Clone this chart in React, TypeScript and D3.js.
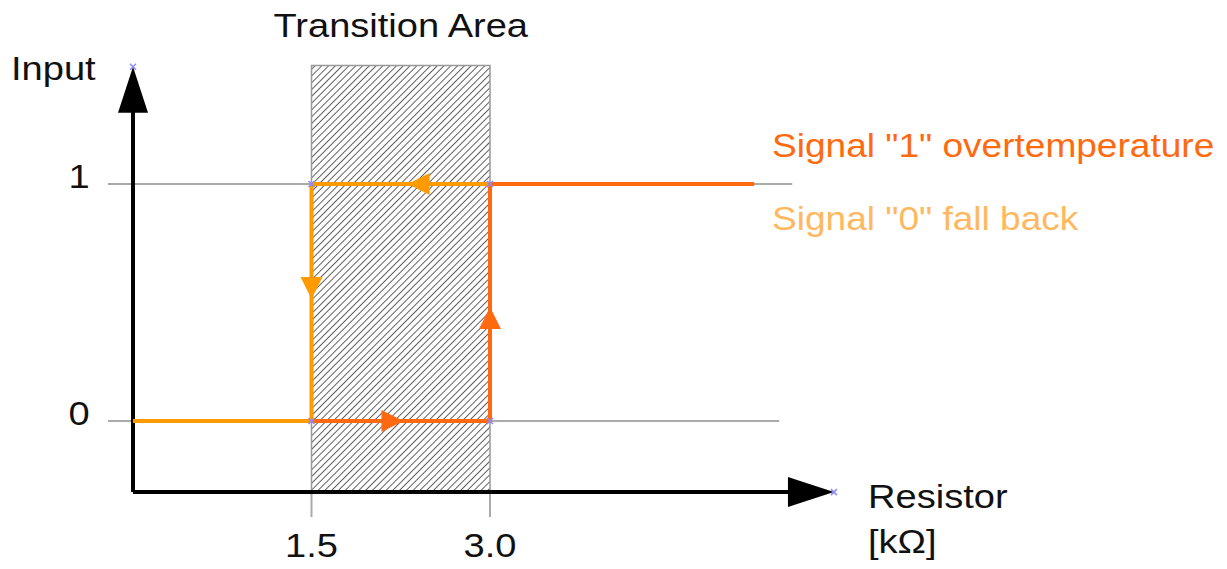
import React from "react";
import * as d3 from "d3";

const xTicks = [1.5, 3.0];
const xTickLabels = ["1.5", "3.0"];
const yTicks = [0, 1];
const yTickLabels = ["0", "1"];
const transition = [1.5, 3.0];
// signal 1 (overtemperature) path: x,y points
const signal1Points: [number, number][] = [[1.5, 0], [3.0, 0], [3.0, 1], [5.22, 1]];
// signal 0 (fall back) path
const signal0Points: [number, number][] = [[3.0, 1], [1.5, 1], [1.5, 0], [0, 0]];
const legendLabels = ['Signal "1" overtemperature', 'Signal "0" fall back'];

const W = 1227, H = 569;
const x = d3.scaleLinear().domain([0, 3]).range([133, 490]);
const y = d3.scaleLinear().domain([0, 1]).range([421, 184]);

const DARK = "#ff6a10";
const LIGHT = "#ff9a00";
const LIGHT_TEXT = "#ffb85e";
const FONT = "'Liberation Sans', Arial, sans-serif";
const FS = 34;
const SX = 1.12;

function Label({ x, y, anchor = "start", fill = "#111", size = FS, sx = SX, children }: any) {
  return (
    <text transform={`translate(${x},${y}) scale(${sx},1)`} textAnchor={anchor}
      fontFamily={FONT} fontSize={size} fill={fill}>{children}</text>
  );
}

function Tri({ cx, cy, dir, color, len = 22, w = 22 }: any) {
  let pts: [number, number][];
  const h = len / 2, hw = w / 2;
  if (dir === "right") pts = [[cx + h, cy], [cx - h, cy - hw], [cx - h, cy + hw]];
  else if (dir === "left") pts = [[cx - h, cy], [cx + h, cy - hw], [cx + h, cy + hw]];
  else if (dir === "up") pts = [[cx, cy - h], [cx - hw, cy + h], [cx + hw, cy + h]];
  else pts = [[cx, cy + h], [cx - hw, cy - h], [cx + hw, cy - h]];
  return <polygon points={pts.map(p => p.join(",")).join(" ")} fill={color} />;
}

function Cross({ cx, cy }: any) {
  const s = 3;
  return (
    <g stroke="#8a8aff" strokeWidth={1.5}>
      <line x1={cx - s} y1={cy - s} x2={cx + s} y2={cy + s} />
      <line x1={cx - s} y1={cy + s} x2={cx + s} y2={cy - s} />
    </g>
  );
}

export default function App() {
  const line = d3.line<[number, number]>().x(d => x(d[0])).y(d => y(d[1]));
  const x0 = x(0), yAxis = y(-0.3), yTop = y(1.495), xEnd = x(5.89);
  const rx0 = x(transition[0]), rx1 = x(transition[1]);
  const rTop = y(1.5);
  return (
    <svg width={W} height={H} style={{ position: "absolute", left: 0, top: 0, background: "#fff" }}>
      <defs>
        <pattern id="hatch" patternUnits="userSpaceOnUse" width={4.8} height={4.8} patternTransform="rotate(45)">
          <line x1={0} y1={-1} x2={0} y2={6} stroke="#5a5a5a" strokeWidth={1.9} />
        </pattern>
      </defs>
      {/* transition area */}
      <rect x={rx0} y={rTop} width={rx1 - rx0} height={yAxis - rTop} fill="url(#hatch)" stroke="#999" strokeWidth={1.5} />
      <Label x={(rx0 + rx1) / 2} y={37} anchor="middle">Transition Area</Label>
      {/* grid lines */}
      <line x1={x(-0.21)} x2={x(5.54)} y1={y(1)} y2={y(1)} stroke="#aaa" strokeWidth={2} />
      <line x1={x(-0.21)} x2={x(5.43)} y1={y(0)} y2={y(0)} stroke="#aaa" strokeWidth={2} />
      {/* tick lines below axis */}
      {xTicks.map((t, i) => (
        <g key={i}>
          <line x1={x(t)} x2={x(t)} y1={yAxis} y2={yAxis + 25} stroke="#aaa" strokeWidth={2} />
          <Label x={x(t)} y={557} anchor="middle">{xTickLabels[i]}</Label>
        </g>
      ))}
      {yTicks.map((t, i) => (
        <Label key={i} x={79} y={y(t) + 4} anchor="middle">{yTickLabels[i]}</Label>
      ))}
      {/* axes */}
      <line x1={x0} x2={x0} y1={yAxis} y2={yTop + 40} stroke="#000" strokeWidth={4} />
      <polygon points={`${x0},${yTop} ${x0 - 15},${yTop + 46} ${x0 + 15},${yTop + 46}`} fill="#000" />
      <line x1={x0} x2={xEnd - 40} y1={yAxis} y2={yAxis} stroke="#000" strokeWidth={4} />
      <polygon points={`${xEnd},${yAxis} ${xEnd - 46},${yAxis - 15} ${xEnd - 46},${yAxis + 15}`} fill="#000" />
      <Label x={11} y={80}>Input</Label>
      <Label x={868} y={508}>Resistor</Label>
      <Label x={868} y={553}>[kΩ]</Label>
      {/* signals */}
      <path d={line(signal0Points) || ""} fill="none" stroke={LIGHT} strokeWidth={4} />
      <path d={line(signal1Points) || ""} fill="none" stroke={DARK} strokeWidth={4} />
      <Tri cx={x(1.5)} cy={288} dir="down" color={LIGHT} />
      <Tri cx={x(2.4)} cy={y(1)} dir="left" color={LIGHT} />
      <Tri cx={x(2.18)} cy={y(0)} dir="right" color={DARK} />
      <Tri cx={x(3.0)} cy={318} dir="up" color={DARK} />
      {/* markers */}
      {[[1.5, 1], [3, 1], [1.5, 0], [3, 0]].map((p, i) => <Cross key={i} cx={x(p[0])} cy={y(p[1])} />)}
      <Cross cx={x0} cy={yTop} />
      <Cross cx={xEnd} cy={yAxis} />
      {/* legend */}
      <Label x={772} y={157} fill={DARK} sx={1.09}>{legendLabels[0]}</Label>
      <Label x={772} y={230} fill={LIGHT_TEXT} sx={1.09}>{legendLabels[1]}</Label>
    </svg>
  );
}
